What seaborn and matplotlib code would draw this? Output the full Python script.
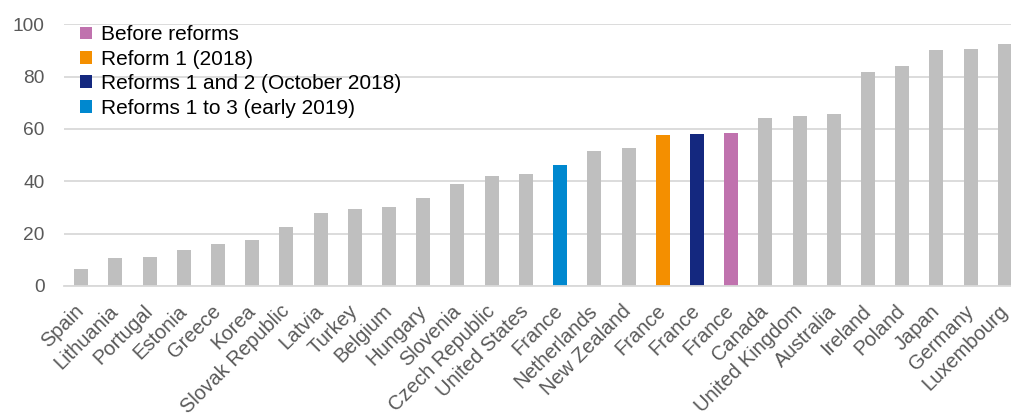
import matplotlib
matplotlib.use("Agg")
import matplotlib.pyplot as plt
from matplotlib.patches import Patch
import seaborn as sns
import pandas as pd

countries = ["Spain", "Lithuania", "Portugal", "Estonia", "Greece", "Korea",
             "Slovak Republic", "Latvia", "Turkey", "Belgium", "Hungary",
             "Slovenia", "Czech Republic", "United States", "France",
             "Netherlands", "New Zealand", "France", "France", "France",
             "Canada", "United Kingdom", "Australia", "Ireland", "Poland",
             "Japan", "Germany", "Luxembourg"]
values = [6.4, 10.6, 11.1, 13.6, 16.0, 17.6, 22.7, 28.0, 29.4, 30.3, 33.5,
          39.0, 42.1, 42.8, 46.2, 51.5, 52.9, 57.7, 58.1, 58.5, 64.1, 64.8,
          65.8, 81.6, 84.1, 90.2, 90.4, 92.6]
groups = ["Other"] * 14 + ["Reforms 1 to 3 (early 2019)"] + ["Other"] * 2 + \
         ["Reform 1 (2018)", "Reforms 1 and 2 (October 2018)", "Before reforms"] + \
         ["Other"] * 8
legend_order = ["Before reforms", "Reform 1 (2018)",
                "Reforms 1 and 2 (October 2018)", "Reforms 1 to 3 (early 2019)"]
palette = {"Other": "#BFBFBF", "Before reforms": "#C072AE",
           "Reform 1 (2018)": "#F48F00",
           "Reforms 1 and 2 (October 2018)": "#14287F",
           "Reforms 1 to 3 (early 2019)": "#0088CF"}
yticks = [0, 20, 40, 60, 80, 100]

df = pd.DataFrame({"pos": list(range(len(countries))), "value": values,
                   "group": groups})

sns.set_theme(style="white")
plt.rcParams["font.family"] = ["Liberation Sans", "DejaVu Sans"]

fig = plt.figure(figsize=(10.11, 4.17), dpi=100)
W, H = 1011, 417
left, right = 64, 1022
top, bottom = 24.3, 286
ax = fig.add_axes([left / W, (H - bottom) / H, (right - left) / W, (bottom - top) / H])

sns.barplot(data=df, x="pos", y="value", hue="group", palette=palette,
            dodge=False, width=0.41, legend=False, ax=ax, saturation=1,
            linewidth=0)

ax.set_ylim(0, 100)
ax.set_xlim(-0.5, len(countries) - 0.5)
ax.set_yticks(yticks)
ax.set_yticklabels([str(t) for t in yticks], fontsize=13.8, color="#595959")
ax.set_xticks(range(len(countries)))
ax.set_xticklabels(countries, rotation=45, ha="right", va="center",
                   rotation_mode="anchor", fontsize=14.5, color="#595959")
ax.tick_params(axis="y", length=0, pad=14)
ax.tick_params(axis="x", length=0, pad=16)
ax.set_xlabel("")
ax.set_ylabel("")
ax.yaxis.grid(True, color="#D9D9D9", linewidth=1.3)
ax.set_axisbelow(True)
for s in ["top", "right", "left"]:
    ax.spines[s].set_visible(False)
ax.spines["bottom"].set_color("#D9D9D9")
ax.spines["bottom"].set_linewidth(1.3)

handles = [Patch(facecolor=palette[g], edgecolor="none", label=g) for g in legend_order]
ax.legend(handles=handles, loc="upper left", bbox_to_anchor=(0.0167, 0.996),
          frameon=False, fontsize=15, handlelength=0.58, handleheight=0.58,
          handletextpad=0.43, labelspacing=0.26, borderaxespad=0,
          borderpad=0, labelcolor="black")

fig.savefig("out.png", dpi=100)
